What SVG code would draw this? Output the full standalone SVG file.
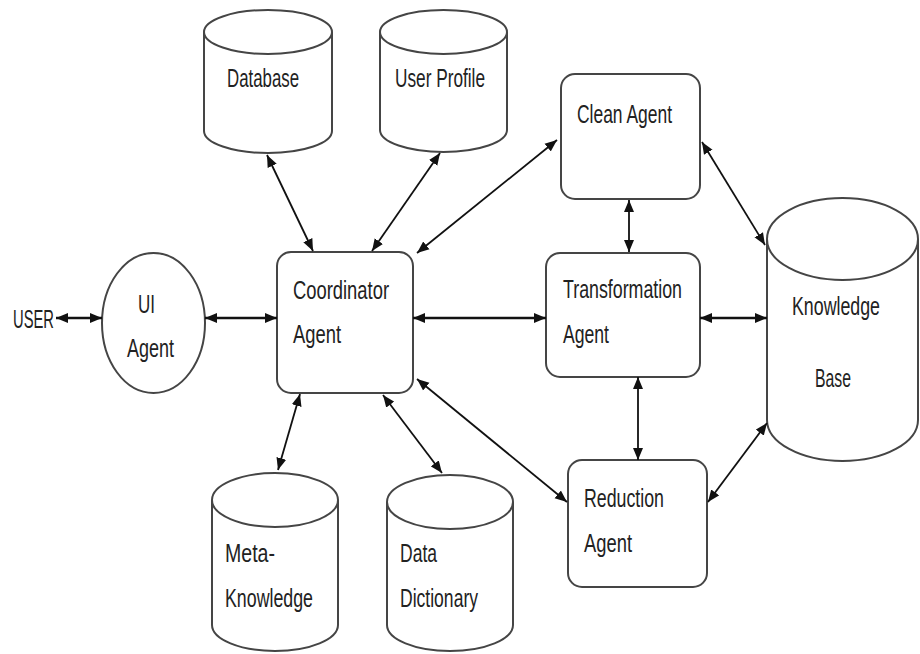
<svg xmlns="http://www.w3.org/2000/svg" width="920" height="654" viewBox="0 0 920 654">
<style>
.shape{fill:#fff;stroke:#454545;stroke-width:2}
.lbl{font-family:"Liberation Sans",Arial,sans-serif;font-size:26px;fill:#222}
.conn line{stroke:#111;stroke-width:1.8;marker-start:url(#ah);marker-end:url(#ah)}
.conn line.h{stroke-width:2.6}
</style>
<defs>
<marker id="ah" markerUnits="userSpaceOnUse" markerWidth="13" markerHeight="11" refX="12" refY="5.5" orient="auto-start-reverse">
<path d="M0,0.5 L12,5.5 L0,10.5 z" fill="#111"/>
</marker>
</defs>
<rect width="920" height="654" fill="#fff"/>

<g id="database">
<path class="shape" d="M204,32 V131 A64,22 0 0 0 332,131 V32"/>
<ellipse class="shape" cx="268" cy="32" rx="64" ry="22"/>
<text class="lbl" x="227" y="87" textLength="72" lengthAdjust="spacingAndGlyphs">Database</text>
</g>

<g id="user-profile">
<path class="shape" d="M380,32 V130 A63.5,22 0 0 0 507,130 V32"/>
<ellipse class="shape" cx="443.5" cy="32" rx="63.5" ry="22"/>
<text class="lbl" x="395" y="87" textLength="90" lengthAdjust="spacingAndGlyphs">User Profile</text>
</g>

<g id="clean-agent">
<rect class="shape" x="561" y="74" width="139" height="125" rx="14"/>
<text class="lbl" x="577" y="123" textLength="95" lengthAdjust="spacingAndGlyphs">Clean Agent</text>
</g>

<g id="user">
<text class="lbl" x="13" y="328" textLength="41" lengthAdjust="spacingAndGlyphs">USER</text>
</g>

<g id="ui-agent">
<ellipse class="shape" cx="153.5" cy="323" rx="51.5" ry="70"/>
<text class="lbl" x="138" y="313" textLength="17" lengthAdjust="spacingAndGlyphs">UI</text>
<text class="lbl" x="127" y="357" textLength="47" lengthAdjust="spacingAndGlyphs">Agent</text>
</g>

<g id="coordinator-agent">
<rect class="shape" x="277" y="252" width="136" height="141" rx="14"/>
<text class="lbl" x="293" y="299" textLength="96" lengthAdjust="spacingAndGlyphs">Coordinator</text>
<text class="lbl" x="293" y="343" textLength="48" lengthAdjust="spacingAndGlyphs">Agent</text>
</g>

<g id="transformation-agent">
<rect class="shape" x="546" y="253" width="154" height="124" rx="14"/>
<text class="lbl" x="563" y="298" textLength="119" lengthAdjust="spacingAndGlyphs">Transformation</text>
<text class="lbl" x="563" y="343" textLength="46" lengthAdjust="spacingAndGlyphs">Agent</text>
</g>

<g id="knowledge-base">
<path class="shape" d="M767,239 V420 A75.5,41 0 0 0 918,420 V239"/>
<ellipse class="shape" cx="842.5" cy="239" rx="75.5" ry="41"/>
<text class="lbl" x="792" y="315" textLength="88" lengthAdjust="spacingAndGlyphs">Knowledge</text>
<text class="lbl" x="815" y="387" textLength="36" lengthAdjust="spacingAndGlyphs">Base</text>
</g>

<g id="reduction-agent">
<rect class="shape" x="568" y="460" width="139" height="127" rx="14"/>
<text class="lbl" x="584" y="507" textLength="80" lengthAdjust="spacingAndGlyphs">Reduction</text>
<text class="lbl" x="584" y="552" textLength="48" lengthAdjust="spacingAndGlyphs">Agent</text>
</g>

<g id="meta-knowledge">
<path class="shape" d="M212,500 V625 A63,26 0 0 0 338,625 V500"/>
<ellipse class="shape" cx="275" cy="500" rx="63" ry="27"/>
<text class="lbl" x="225" y="562" textLength="50" lengthAdjust="spacingAndGlyphs">Meta-</text>
<text class="lbl" x="225" y="607" textLength="88" lengthAdjust="spacingAndGlyphs">Knowledge</text>
</g>

<g id="data-dictionary">
<path class="shape" d="M387,502 V625 A63,26 0 0 0 513,625 V502"/>
<ellipse class="shape" cx="450" cy="502" rx="63" ry="27"/>
<text class="lbl" x="400" y="562" textLength="37" lengthAdjust="spacingAndGlyphs">Data</text>
<text class="lbl" x="400" y="607" textLength="78" lengthAdjust="spacingAndGlyphs">Dictionary</text>
</g>

<g id="connectors" class="conn">
<line class="h" x1="56" y1="318" x2="102" y2="318"/>
<line class="h" x1="205" y1="318" x2="277" y2="318"/>
<line class="h" x1="413" y1="318" x2="546" y2="318"/>
<line class="h" x1="700" y1="318" x2="767" y2="318"/>
<line x1="267" y1="155" x2="313" y2="251"/>
<line x1="440" y1="153" x2="372" y2="251"/>
<line x1="557" y1="140" x2="417" y2="253"/>
<line x1="702" y1="142" x2="765" y2="245"/>
<line x1="629" y1="200" x2="629" y2="252"/>
<line x1="638" y1="377" x2="638" y2="460"/>
<line x1="708" y1="502" x2="767" y2="423"/>
<line x1="417" y1="379" x2="567" y2="502"/>
<line x1="300" y1="394" x2="278" y2="470"/>
<line x1="383" y1="395" x2="442" y2="473"/>
</g>
</svg>
